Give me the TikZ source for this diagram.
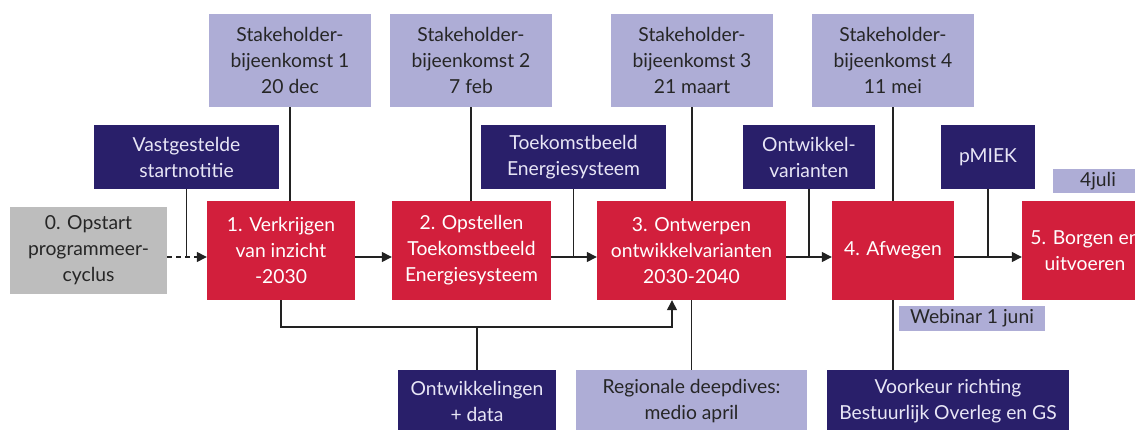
\documentclass[tikz,border=0pt]{standalone}
\usepackage{fontspec}
\setmainfont{Lato}
\usetikzlibrary{arrows.meta}
\definecolor{cred}{HTML}{D21F3C}
\definecolor{cnavy}{HTML}{291F6A}
\definecolor{clav}{HTML}{AEADD6}
\definecolor{cgray}{HTML}{BDBDBD}
\definecolor{cline}{HTML}{222222}
\definecolor{cnavytext}{HTML}{E8E6F6}
\tikzset{
  blk/.style={inner sep=0pt, align=center, font=\fontsize{19.3}{26}\selectfont},
  redbox/.style={blk, fill=cred, text=white},
  navybox/.style={blk, fill=cnavy, text=cnavytext},
  lavbox/.style={blk, fill=clav, text=black!85},
  graybox/.style={blk, fill=cgray, text=black!85},
  conn/.style={draw=cline, line width=1.3pt},
  tip/.style={-{Triangle[length=10pt,width=10pt]}}
}
\begin{document}
\begin{tikzpicture}[x=1pt,y=-1pt]
\useasboundingbox (0,0) rectangle (1135,430);
\clip (0,0) rectangle (1135,430);
% process boxes
\node[graybox, minimum width=157pt, minimum height=87pt] (b0) at (88.5,250.5) {0. Opstart\\programmeer-\\cyclus};
\node[redbox, minimum width=148pt, minimum height=99pt] (b1) at (281,250.5) {1. Verkrijgen\\van inzicht\\-2030};
\node[redbox, minimum width=159pt, minimum height=99pt] (b2) at (471.5,250.5) {2. Opstellen\\Toekomstbeeld\\Energiesysteem};
\node[redbox, minimum width=189pt, minimum height=99pt] (b3) at (691.5,250.5) {3. Ontwerpen\\ontwikkelvarianten\\2030-2040};
\node[redbox, minimum width=122pt, minimum height=99pt] (b4) at (893,250.5) {4. Afwegen};
\node[redbox, minimum width=126pt, minimum height=99pt] (b5) at (1085,250.5) {5. Borgen en\\uitvoeren};
% stakeholder boxes
\node[lavbox, minimum width=162pt, minimum height=93pt] (s1) at (290,60.5) {Stakeholder-\\bijeenkomst 1\\20 dec};
\node[lavbox, minimum width=162pt, minimum height=93pt] (s2) at (471,60.5) {Stakeholder-\\bijeenkomst 2\\7 feb};
\node[lavbox, minimum width=162pt, minimum height=93pt] (s3) at (692,60.5) {Stakeholder-\\bijeenkomst 3\\21 maart};
\node[lavbox, minimum width=162pt, minimum height=93pt] (s4) at (893,60.5) {Stakeholder-\\bijeenkomst 4\\11 mei};
% navy input boxes
\node[navybox, minimum width=185pt, minimum height=64pt] (vast) at (186.5,157) {Vastgestelde\\startnotitie};
\node[navybox, minimum width=185pt, minimum height=64pt] (toek) at (573.5,157) {Toekomstbeeld\\Energiesysteem};
\node[navybox, minimum width=132pt, minimum height=64pt] (ontv) at (809,157) {Ontwikkel-\\varianten};
\node[navybox, minimum width=94pt, minimum height=64pt] (pmiek) at (988,157) {pMIEK};
% small labels
\node[lavbox, minimum width=90pt, minimum height=24pt] (juli) at (1098,181) {4juli};
\node[lavbox, minimum width=146pt, minimum height=25pt] (web) at (972,318.5) {Webinar 1 juni};
% bottom boxes
\node[navybox, minimum width=158pt, minimum height=62pt] (ontd) at (477,401) {Ontwikkelingen\\+ data};
\node[lavbox, minimum width=231pt, minimum height=62pt] (reg) at (691.5,401) {Regionale deepdives:\\medio april};
\node[navybox, minimum width=242pt, minimum height=62pt] (voor) at (948,401) {Voorkeur richting\\Bestuurlijk Overleg en GS};
% junction coordinates on main line
\coordinate (m) at (0,257);
\coordinate (kb) at (281,327);
\coordinate (ke) at (672,327);
% main flow
\draw[conn, tip, dashed, dash pattern=on 5pt off 4pt] (b0.east |- m) -- (b1.west |- m);
\draw[conn, tip] (b1.east |- m) -- (b2.west |- m);
\draw[conn, tip] (b2.east |- m) -- (b3.west |- m);
\draw[conn, tip] (b3.east |- m) -- (b4.west |- m);
\draw[conn, tip] (b4.east |- m) -- (b5.west |- m);
% inputs from above
\draw[conn] (vast.south) -- (vast.south |- m);
\draw[conn] (toek.south) -- (toek.south |- m);
\draw[conn] (ontv.south) -- (ontv.south |- m);
\draw[conn] (pmiek.south) -- (pmiek.south |- m);
% stakeholder lines
\draw[conn] (s1.south) -- (s1.south |- b1.north);
\draw[conn] (s2.south) -- (s2.south |- b2.north);
\draw[conn] (s3.south) -- (s3.south |- b3.north);
\draw[conn] (s4.south) -- (s4.south |- b4.north);
% bottom connectors
\draw[conn, tip] (b1.south) |- (ke) -- (ke |- b3.south);
\draw[conn] (ontd.north) -- (ontd.north |- kb);
\draw[conn] (b3.south) -- (reg.north);
\draw[conn] (b4.south) -- (b4.south |- voor.north);
\end{tikzpicture}
\end{document}
